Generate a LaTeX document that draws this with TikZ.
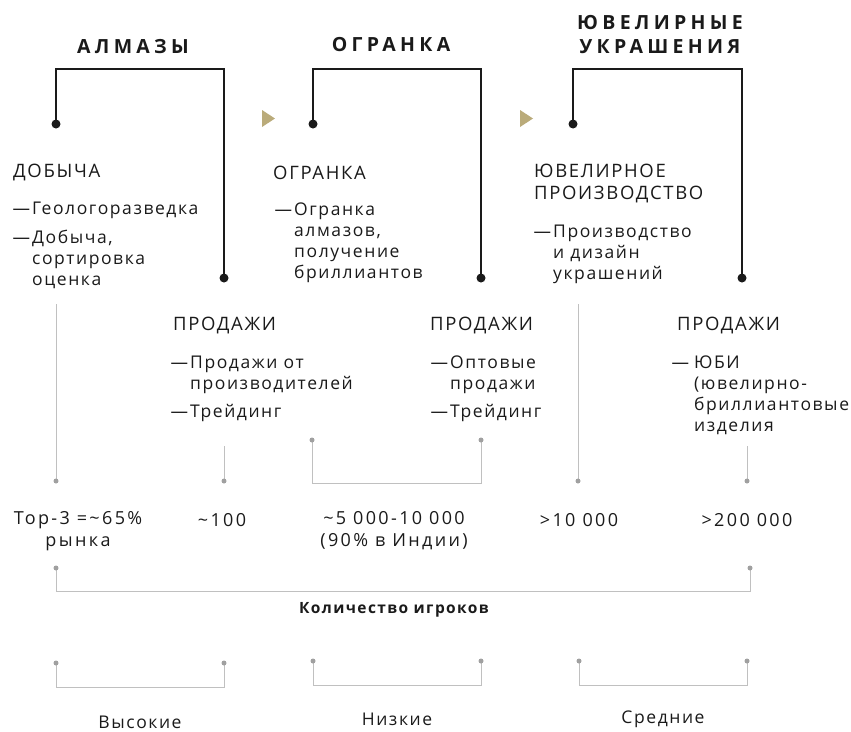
\documentclass[tikz,border=0pt]{standalone}
\usepackage{fontspec}
\setmainfont{Open Sans}[LetterSpace=9]
\newfontfamily\stagefont{Open Sans}[LetterSpace=22]
\newfontfamily\countfont{Open Sans}[LetterSpace=13]
\usepackage{tikz}
\usetikzlibrary{positioning}
\definecolor{ink}{RGB}{26,26,26}
\definecolor{gold}{RGB}{186,171,122}
\definecolor{guide}{RGB}{192,192,192}
\definecolor{dotgrey}{RGB}{160,160,160}

\begin{document}
\begin{tikzpicture}[x=1pt,y=-1pt,
    stage/.style={font=\stagefont\bfseries\fontsize{19.5}{24}\selectfont,align=center,inner sep=0pt,text=ink},
    title/.style={font=\fontsize{18.5}{22}\selectfont,align=left,anchor=west,inner sep=0pt,text=ink},
    item/.style={font=\fontsize{17.5}{21}\selectfont,align=left,anchor=west,inner sep=0pt,text=ink},
    count/.style={font=\countfont\fontsize{18}{22}\selectfont,align=center,inner sep=0pt,text=ink},
    level/.style={font=\fontsize{17.5}{22}\selectfont,inner sep=0pt,text=ink},
    frame/.style={draw=ink,line width=1.3pt},
    rule/.style={draw=guide,line width=1pt}]
    \useasboundingbox (0,0) rectangle (851,731);

    % stages
    \node[stage] (almazy) at (133,47) {АЛМАЗЫ};
    \node[stage] (ogranka) at (391,45) {ОГРАНКА};
    \node[stage] (juvel) at (660,35) {ЮВЕЛИРНЫЕ\\УКРАШЕНИЯ};

    \coordinate (a1) at (56,124);  \coordinate (a2) at (224,278);
    \coordinate (b1) at (313,124); \coordinate (b2) at (481,278);
    \coordinate (c1) at (573,124); \coordinate (c2) at (742,278);
    \foreach \p/\q in {a1/a2,b1/b2,c1/c2}{
      \draw[frame] (\p) -- ++(0,-55) -| (\q);
      \fill[ink] (\p) circle (4.5) (\q) circle (4.5);
    }

    \fill[gold] (262,110) -- (262,127) -- (275,118.5) -- cycle;
    \fill[gold] (520,110) -- (520,127) -- (533,118.5) -- cycle;

    % upper steps
    \node[title] (dobycha) at (13,173) {ДОБЫЧА};
    \node[item] (geo) at (32,210) {\llap{—\kern2pt}Геологоразведка};
    \node[item] (sort) at (32,259.5) {\llap{—\kern2pt}Добыча,\\сортировка\\оценка};

    \node[title] (cut) at (273,173) {ОГРАНКА};
    \node[item] (cutitem) at (294,242.5) {\llap{—\kern2pt}Огранка\\алмазов,\\получение\\бриллиантов};

    \node[title] (manuf) at (534,184) {ЮВЕЛИРНОЕ\\ПРОИЗВОДСТВО};
    \node[item] (design) at (553,254) {\llap{—\kern2pt}Производство\\и дизайн\\украшений};

    % sales
    \node[title] (sales1) at (173,326) {ПРОДАЖИ};
    \node[item] (prod) at (190,374.5) {\llap{—\kern2pt}Продажи от\\производителей};
    \node[item] (trade1) at (190,413) {\llap{—\kern2pt}Трейдинг};

    \node[title] (sales2) at (430,326) {ПРОДАЖИ};
    \node[item] (whole) at (450,374.5) {\llap{—\kern2pt}Оптовые\\продажи};
    \node[item] (trade2) at (450,413) {\llap{—\kern2pt}Трейдинг};

    \node[title] (sales3) at (677,326) {ПРОДАЖИ};
    \node[item] (jubi) at (694,395.5) {\llap{—\kern5pt}ЮБИ\\(ювелирно-\\бриллиантовые\\изделия};

    % counts
    \coordinate (t1) at (56,304);  \coordinate (p1) at (56,481);
    \coordinate (t2) at (224,446); \coordinate (p2) at (224,481);
    \coordinate (t4) at (578,304); \coordinate (p4) at (578,481);
    \coordinate (t5) at (747,446); \coordinate (p5) at (747,481);
    \foreach \t/\p in {t1/p1,t2/p2,t4/p4,t5/p5}{
      \draw[rule] (\t) -- (\p);
      \fill[dotgrey] (\p) circle (2.5);
    }
    \coordinate (m1) at (312,440); \coordinate (m2) at (481,440);
    \draw[rule] (m1) -- ++(0,43) -| (m2);
    \fill[dotgrey] (m1) circle (2.5) (m2) circle (2.5);

    \node[count] (n1) at (78,531) {Top-3 =\textasciitilde65\%\\рынка};
    \node[count] (n2) at (222,520) {\textasciitilde100};
    \node[count] (n3) at (394,531) {\textasciitilde5 000-10 000\\(90\% в Индии)};
    \node[count] (n4) at (579,520) {>10 000};
    \node[count] (n5) at (747,520) {>200 000};

    \coordinate (k1) at (56,568); \coordinate (k2) at (750,568);
    \draw[rule] (k1) -- ++(0,23) -| (k2);
    \fill[dotgrey] (k1) circle (2.5) (k2) circle (2.5);
    \node[font=\bfseries\fontsize{15.5}{20}\selectfont,text=ink] (players) at (394,610) {Количество игроков};

    % margins
    \coordinate (h1) at (56,663);  \coordinate (h2) at (224,663);
    \coordinate (l1) at (313,661); \coordinate (l2) at (481,661);
    \coordinate (s1) at (579,661); \coordinate (s2) at (747,661);
    \foreach \u/\v in {h1/h2,l1/l2,s1/s2}{
      \draw[rule] (\u) -- ++(0,24.5) -| (\v);
      \fill[dotgrey] (\u) circle (2.5) (\v) circle (2.5);
    }
    \node[level] (high) at (140,722) {Высокие};
    \node[level] (low) at (397,719) {Низкие};
    \node[level] (mid) at (663,719) {Средние};
\end{tikzpicture}
\end{document}
